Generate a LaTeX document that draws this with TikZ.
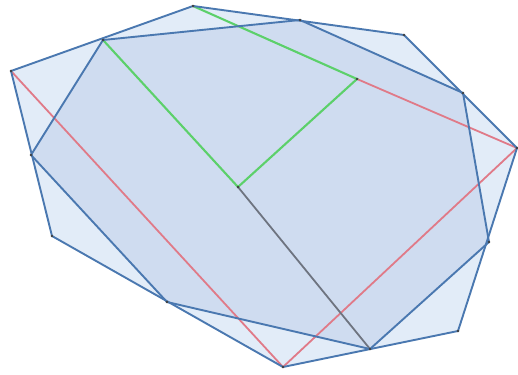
\documentclass[tikz,border=0pt]{standalone}
\definecolor{outfill}{HTML}{E2ECF8}
\definecolor{infill}{HTML}{CFDCF0}
\definecolor{edgeblue}{HTML}{4A78B0}
\definecolor{edgered}{HTML}{E07A88}
\definecolor{edgegreen}{HTML}{5CD06A}
\definecolor{edgegray}{HTML}{6E7480}
\tikzset{
  blueedge/.style={draw=edgeblue, line width=1.9pt, line join=round},
  rededge/.style={draw=edgered, line width=1.8pt},
  greenedge/.style={draw=edgegreen, line width=2.1pt},
  grayedge/.style={draw=edgegray, line width=1.8pt},
  vdot/.style={circle, fill=black!75, inner sep=0pt, minimum size=2.6pt}
}
\begin{document}
\begin{tikzpicture}[x=1pt,y=-1pt]
\useasboundingbox (0,0) rectangle (518,374);
% outer polygon vertices
\coordinate (A) at (11,71);
\coordinate (B) at (193,6);
\coordinate (C) at (404,35);
\coordinate (D) at (517,148);
\coordinate (E) at (458,331);
\coordinate (F) at (283,367);
\coordinate (G) at (52,236);
% inner polygon vertices
\coordinate (P1) at (103,40);
\coordinate (P2) at (300,20);
\coordinate (P3) at (463,93);
\coordinate (P4) at (489,242);
\coordinate (P5) at (370,349);
\coordinate (P6) at (167,302);
\coordinate (P7) at (31,155);
% interior points
\coordinate (Q) at (357,79);
\coordinate (R) at (238,187);
% fills
\fill[outfill] (A) -- (B) -- (C) -- (D) -- (E) -- (F) -- (G) -- cycle;
\fill[infill] (P1) -- (P2) -- (P3) -- (P4) -- (P5) -- (P6) -- (P7) -- cycle;
% coloured segments
\draw[rededge] (A) -- (F) -- (D) -- (Q);
\draw[greenedge] (P1) -- (R) -- (Q) -- (B);
\draw[grayedge] (R) -- (P5);
% polygons
\draw[blueedge] (A) -- (B) -- (C) -- (D) -- (E) -- (F) -- (G) -- cycle;
\draw[blueedge] (P1) -- (P2) -- (P3) -- (P4) -- (P5) -- (P6) -- (P7) -- cycle;
% vertex dots
\foreach \p in {A,B,C,D,E,F,G,P1,P2,P3,P4,P5,P6,P7,Q,R}
  \node[vdot] (dot\p) at (\p) {};
\end{tikzpicture}
\end{document}
